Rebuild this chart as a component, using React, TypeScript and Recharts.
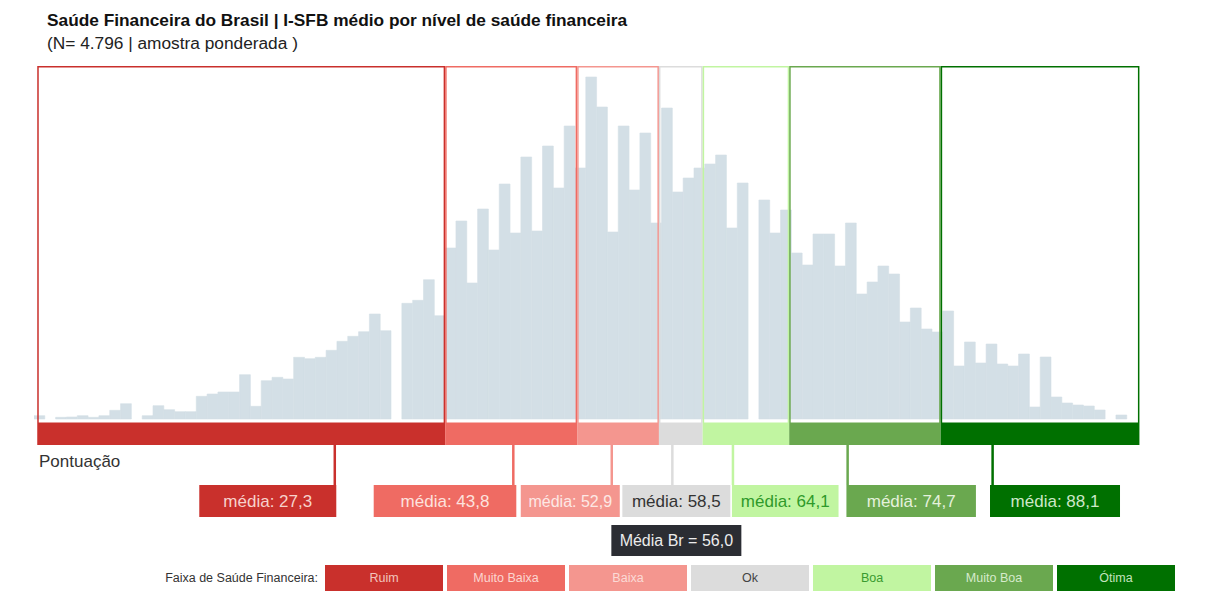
import React from 'react';
import { ComposedChart, Bar, XAxis, YAxis, ReferenceArea, ReferenceLine, Legend } from 'recharts';

// ---------- DATA ----------
const scores = [
  0, 1, 2, 3, 4, 5, 6, 7, 8, 9, 10, 11, 12, 13, 14, 15, 16, 17, 18, 19,
  20, 21, 22, 23, 24, 25, 26, 27, 28, 29, 30, 31, 32, 33, 34, 35, 36, 37, 38, 39,
  40, 41, 42, 43, 44, 45, 46, 47, 48, 49, 50, 51, 52, 53, 54, 55, 56, 57, 58, 59,
  60, 61, 62, 63, 64, 65, 66, 67, 68, 69, 70, 71, 72, 73, 74, 75, 76, 77, 78, 79,
  80, 81, 82, 83, 84, 85, 86, 87, 88, 89, 90, 91, 92, 93, 94, 95, 96, 97, 98, 99, 100,
];

// weighted frequency per score (relative units)
const frequencies = [
  3.3, 0, 1.7, 2, 3.3, 1.7, 3.3, 8.7, 15.3, 0,
  3.3, 13.3, 9.3, 7.3, 7.3, 22.7, 25, 27, 27, 44.3,
  12.7, 38.3, 41.7, 40, 61.7, 60.3, 61.7, 68.7, 77.7, 82.7,
  87.3, 105, 88.3, 0, 115.7, 118.7, 139.3, 103.3, 171, 198,
  136, 210, 169, 235, 186, 262, 188, 273, 231, 293,
  251, 342, 312, 187, 293, 229, 286, 196, 311, 227,
  241, 251, 255, 264, 191, 236, 0, 219, 186, 209,
  166, 154, 185, 185, 153, 196, 125, 137, 153, 145,
  97, 111, 90, 87, 108, 53, 77, 56, 75, 55,
  53, 65, 12, 62, 22, 16, 14, 13, 9, 0, 4,
];

const bandNames = ['Ruim', 'Muito Baixa', 'Baixa', 'Ok', 'Boa', 'Muito Boa', 'Ótima'];
const bandStart = [-0.2, 37.5, 49.7, 57.26, 61.3, 69.3, 83.3];
const bandEnd = [37.5, 49.7, 57.26, 61.3, 69.3, 83.3, 101.67];
const bandMeans = [27.3, 43.8, 52.9, 58.5, 64.1, 74.7, 88.1];
const brMean = 56.0;

const titleText = 'Saúde Financeira do Brasil | I-SFB médio por nível de saúde financeira';
const subtitleText = '(N= 4.796 | amostra ponderada )';
const axisLabelText = 'Pontuação';
const legendTitle = 'Faixa de Saúde Financeira:';

const fmt = (v: number) => v.toFixed(1).replace('.', ',');

// ---------- STYLE / LAYOUT ----------
const FONT = '"Liberation Sans", Arial, Helvetica, sans-serif';
const W = 1213;
const H = 592;
const BAR_COLOR = '#d3dfe6';
const bandColors = ['#c9302c', '#ef6b63', '#f4968f', '#dcdcdc', '#c1f5a1', '#6aa84f', '#007000'];
const labelTextColors = ['#f7d2cb', '#fde2de', '#fde8e5', '#333333', '#2f9a2a', '#e4f1dc', '#cde8c8'];
const legendTextColors = ['#f2c4bd', '#fcd6d1', '#fbdad6', '#444444', '#3a9a30', '#d6ebcc', '#c2e3bd'];
const labelLayout = [
  { w: 137, off: -135.5, fs: 17 },
  { w: 142.6, off: -139.6, fs: 17 },
  { w: 99, off: -91, fs: 16 },
  { w: 108, off: -50, fs: 17 },
  { w: 106.6, off: -1, fs: 17 },
  { w: 129.5, off: -1.2, fs: 17 },
  { w: 130, off: -2.6, fs: 17 },
];
const BOX_TOP = 353;
const BAND_TOP = -5;
const BAND_BOTTOM = -26;
const LABEL_TOP = -66;
const LABEL_H = 32;
const BR_GAP = 8;
const BR_W = 130;
const BR_H = 31;

const data = scores.map((s, i) => ({ score: s, freq: frequencies[i] }));

const LegendRow = () => (
  <div style={{ position: 'relative', width: W, height: 26, fontFamily: FONT }}>
    <div
      style={{
        position: 'absolute', right: W - 318, top: 0, height: 26, lineHeight: '26px',
        fontSize: 12.5, color: '#333', whiteSpace: 'nowrap',
      }}
    >
      {legendTitle}
    </div>
    {bandNames.map((n, i) => (
      <div
        key={n}
        style={{
          position: 'absolute', left: 325 + i * 122, top: 0, width: 118, height: 26,
          lineHeight: '26px', textAlign: 'center', fontSize: 12.5,
          background: bandColors[i], color: legendTextColors[i],
        }}
      >
        {n}
      </div>
    ))}
  </div>
);

export default function App() {
  return (
    <div style={{ position: 'absolute', left: 0, top: 0, width: W, height: H, overflow: 'hidden', background: '#fff', fontFamily: FONT }}>
      <div style={{ position: 'absolute', left: 47, top: 10, fontSize: 17.3, lineHeight: '20px', fontWeight: 'bold', color: '#111', whiteSpace: 'nowrap' }}>
        {titleText}
      </div>
      <div style={{ position: 'absolute', left: 47, top: 33, fontSize: 17.3, lineHeight: '20px', color: '#222', whiteSpace: 'nowrap' }}>
        {subtitleText}
      </div>
      <div style={{ position: 'absolute', left: 39, top: 452, fontSize: 17, lineHeight: '20px', color: '#333', whiteSpace: 'nowrap' }}>
        {axisLabelText}
      </div>
      <div style={{ position: 'absolute', left: 0, top: 0 }}>
        <ComposedChart
          width={W}
          height={H}
          data={data}
          margin={{ top: 66, right: 70, bottom: 36, left: 34 }}
        >
          <XAxis type="number" dataKey="score" domain={[-0.5, 102]} hide allowDataOverflow />
          <YAxis type="number" domain={[-137, 353]} hide allowDataOverflow />
          <Bar
            dataKey="freq"
            fill={BAR_COLOR}
            stroke={BAR_COLOR}
            strokeWidth={0.6}
            barSize={10.8}
            isAnimationActive={false}
          />
          {bandNames.map((n, i) => (
            <ReferenceArea
              key={'box' + n}
              x1={bandStart[i]}
              x2={bandEnd[i]}
              y1={BAND_TOP}
              y2={BOX_TOP}
              fill="none"
              stroke={bandColors[i]}
              zIndex={450}
              shape={(p: any) => (
                <rect
                  x={p.x + 0.75}
                  y={p.y + 0.75}
                  width={Math.max(0, p.width - 1.5)}
                  height={Math.max(0, p.height - 1.5)}
                  fill="none"
                  stroke={bandColors[i]}
                  strokeWidth={1.5}
                />
              )}
            />
          ))}
          {bandNames.map((n, i) => (
            <ReferenceArea
              key={'band' + n}
              x1={bandStart[i]}
              x2={bandEnd[i]}
              y1={BAND_BOTTOM}
              y2={BAND_TOP}
              fill={bandColors[i]}
              fillOpacity={1}
              stroke="none"
              zIndex={460}
            />
          ))}
          {bandNames.map((n, i) => (
            <ReferenceLine
              key={'lbl' + n}
              segment={[{ x: bandMeans[i], y: BAND_BOTTOM }, { x: bandMeans[i], y: LABEL_TOP }]}
              stroke={bandColors[i]}
              zIndex={470}
              shape={(p: any) => {
                const cx = p.x1;
                const top = Math.max(p.y1, p.y2);
                const lay = labelLayout[i];
                const bx = cx + lay.off;
                return (
                  <g>
                    <line x1={cx} y1={Math.min(p.y1, p.y2)} x2={cx} y2={top} stroke={bandColors[i]} strokeWidth={2.5} />
                    <rect x={bx} y={top} width={lay.w} height={LABEL_H} fill={bandColors[i]} />
                    <text
                      x={bx + lay.w / 2}
                      y={top + 22}
                      textAnchor="middle"
                      fontFamily={FONT}
                      fontSize={lay.fs}
                      fill={labelTextColors[i]}
                    >
                      {'média: ' + fmt(bandMeans[i])}
                    </text>
                    {i === 3 && (
                      <g>
                        <rect x={bx + lay.w / 2 - BR_W / 2} y={top + LABEL_H + BR_GAP} width={BR_W} height={BR_H} fill="#2b2d33" />
                        <text
                          x={bx + lay.w / 2}
                          y={top + LABEL_H + BR_GAP + 21}
                          textAnchor="middle"
                          fontFamily={FONT}
                          fontSize={16}
                          fill="#ececec"
                        >
                          {'Média Br = ' + fmt(brMean)}
                        </text>
                      </g>
                    )}
                  </g>
                );
              }}
            />
          ))}
          <Legend
            verticalAlign="middle"
            align="center"
            layout="horizontal"
            wrapperStyle={{ top: 565, left: 0, width: W, height: 26 }}
            content={() => <LegendRow />}
          />
        </ComposedChart>
      </div>
    </div>
  );
}
